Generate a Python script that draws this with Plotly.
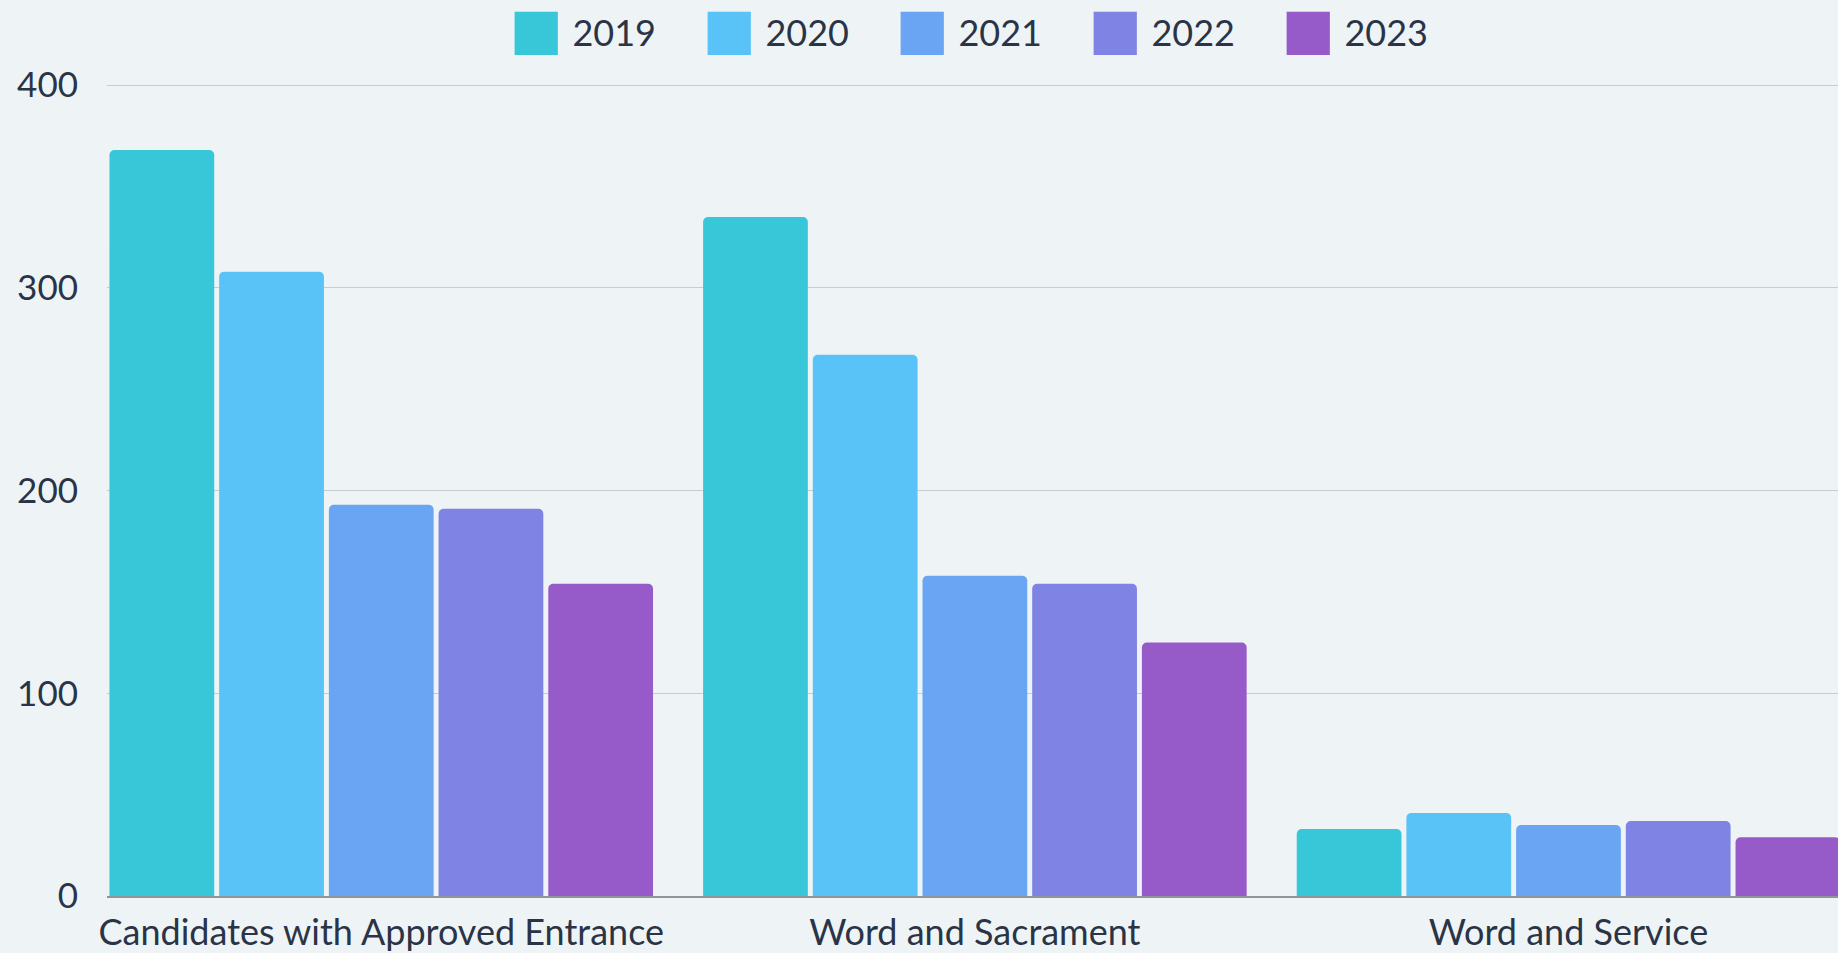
import plotly.graph_objects as go

categories = ["Candidates with Approved Entrance", "Word and Sacrament", "Word and Service"]
years = ["2019", "2020", "2021", "2022", "2023"]
values_2019 = [368, 335, 33]
values_2020 = [308, 267, 41]
values_2021 = [193, 158, 35]
values_2022 = [191, 154, 37]
values_2023 = [154, 125, 29]
series = [values_2019, values_2020, values_2021, values_2022, values_2023]
colors = ["#38c7d9", "#59c2f7", "#69a5f3", "#7f83e3", "#975bc9"]

y_ticks = [0, 100, 200, 300, 400]

FONT = "Lato, 'Open Sans', sans-serif"
TEXT = "#2b3446"

fig = go.Figure()
for yr, vals, col in zip(years, series, colors):
    fig.add_trace(go.Bar(
        x=categories, y=vals, name=yr, marker=dict(color=col, line=dict(width=0)),
        legendgroup=yr, showlegend=False,
    ))
# legend entries with large square swatches
for yr, col in zip(years, colors):
    fig.add_trace(go.Scatter(
        x=[None], y=[None], mode="lines", line=dict(width=0, color=col),
        name=(f'<sub><span style="color:{col};font-size:54px;font-family:\'Noto Sans CJK SC\'">■</span></sub>'
              f' {yr}'),
        legendgroup=yr, showlegend=True, hoverinfo="skip",
    ))

fig.update_layout(
    width=1838, height=953,
    margin=dict(l=107, r=0, t=83, b=53),
    paper_bgcolor="#eef4f6", plot_bgcolor="#eef4f6",
    barmode="group", bargap=0.076, bargroupgap=0.045, barcornerradius=5,
    font=dict(family=FONT, size=36, color=TEXT),
    showlegend=True,
    legend=dict(
        orientation="h", x=0.488, xanchor="center", yref="container", y=0.966, yanchor="middle",
        font=dict(family=FONT, size=36, color=TEXT), bgcolor="rgba(0,0,0,0)",
        entrywidth=148, entrywidthmode="pixels", itemwidth=30,
    ),
    xaxis=dict(
        type="category", range=[-0.462, 2.454], showgrid=False,
        showline=True, linecolor="#8e959c", linewidth=1.5,
        ticks="", ticklabelstandoff=4, tickfont=dict(family=FONT, size=36, color=TEXT),
        fixedrange=True,
    ),
    yaxis=dict(
        range=[0, 400.5], tickvals=y_ticks, ticktext=[str(v) for v in y_ticks],
        showgrid=True, gridcolor="#c6ced4", gridwidth=1, zeroline=False,
        showline=False, ticks="", ticklabelstandoff=28,
        tickfont=dict(family=FONT, size=35, color=TEXT), fixedrange=True,
    ),
)

fig.write_html(
    "out.html",
    config={"displayModeBar": False},
    post_script="document.body.style.margin='0';document.body.style.overflow='hidden';",
)
